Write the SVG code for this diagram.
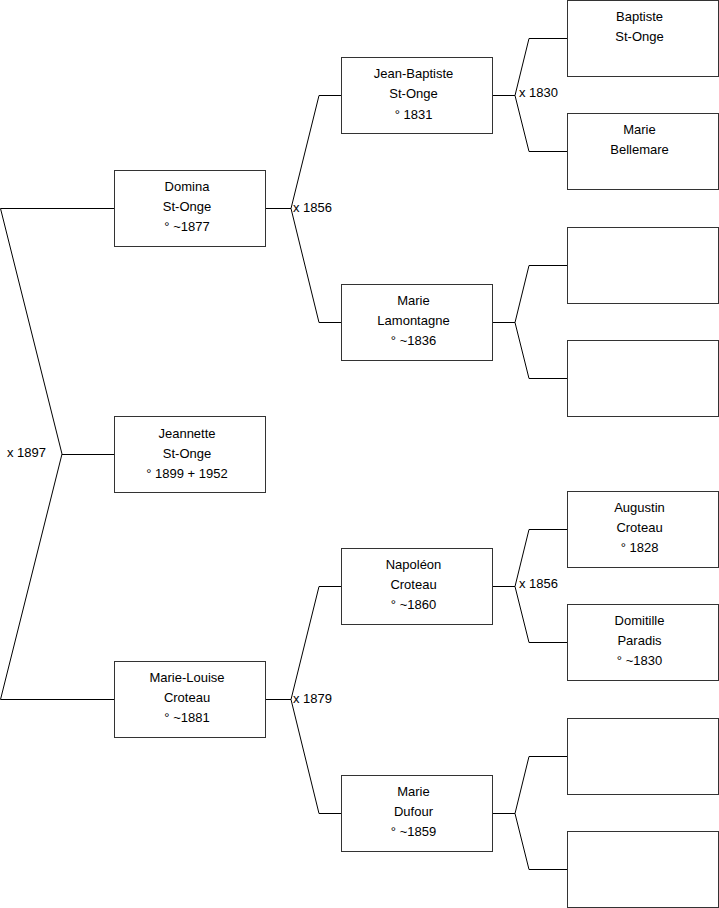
<svg xmlns="http://www.w3.org/2000/svg" width="719" height="908" viewBox="0 0 719 908">
<style>
.box{fill:#fff;stroke:#333;stroke-width:1}
.ln{fill:none;stroke:#000;stroke-width:1}
text{font-family:"Liberation Sans",Arial,sans-serif;font-size:13px;fill:#000}
.c{text-anchor:middle}
</style>
<rect width="719" height="908" fill="#fff"/>
<g id="connectors">
<polyline class="ln" points="114,208.5 0.5,208.5 62,454 0.5,699.5 114,699.5"/>
<line class="ln" x1="62" y1="454.5" x2="114" y2="454.5"/>
<text x="7" y="457">x 1897</text>
<polyline class="ln" points="265,208.5 291,208.5"/>
<polyline class="ln" points="341,95.5 319,95.5 291,208.5 319,322.5 341,322.5"/>
<text x="293" y="212">x 1856</text>
<polyline class="ln" points="265,699.5 291,699.5"/>
<polyline class="ln" points="341,586.5 319,586.5 291,699.5 319,813.5 341,813.5"/>
<text x="293" y="703">x 1879</text>
<polyline class="ln" points="492,95.5 515,95.5"/>
<polyline class="ln" points="567,38.5 529,38.5 515,95.5 529,151.5 567,151.5"/>
<text x="519" y="97">x 1830</text>
<polyline class="ln" points="492,322.5 515,322.5"/>
<polyline class="ln" points="567,265.5 529,265.5 515,322.5 529,378.5 567,378.5"/>
<polyline class="ln" points="492,586.5 515,586.5"/>
<polyline class="ln" points="567,529.5 529,529.5 515,586.5 529,642.5 567,642.5"/>
<text x="519" y="588">x 1856</text>
<polyline class="ln" points="492,813.5 515,813.5"/>
<polyline class="ln" points="567,756.5 529,756.5 515,813.5 529,869.5 567,869.5"/>
</g>
<g id="domina"><rect class="box" x="114.5" y="170.5" width="151" height="76"/>
<text class="c" x="187" y="191">Domina</text><text class="c" x="187" y="211">St-Onge</text><text class="c" x="187" y="231">° ~1877</text></g>
<g id="jeannette"><rect class="box" x="114.5" y="416.5" width="151" height="76"/>
<text class="c" x="187" y="438">Jeannette</text><text class="c" x="187" y="458">St-Onge</text><text class="c" x="187" y="478">° 1899 + 1952</text></g>
<g id="marie-louise"><rect class="box" x="114.5" y="661.5" width="151" height="76"/>
<text class="c" x="187" y="682">Marie-Louise</text><text class="c" x="187" y="702">Croteau</text><text class="c" x="187" y="722">° ~1881</text></g>
<g id="jean-baptiste"><rect class="box" x="341.5" y="57.5" width="151" height="76"/>
<text class="c" x="413.5" y="78">Jean-Baptiste</text><text class="c" x="413.5" y="98">St-Onge</text><text class="c" x="413.5" y="119">° 1831</text></g>
<g id="marie-lamontagne"><rect class="box" x="341.5" y="284.5" width="151" height="76"/>
<text class="c" x="413.5" y="305">Marie</text><text class="c" x="413.5" y="325">Lamontagne</text><text class="c" x="413.5" y="345">° ~1836</text></g>
<g id="napoleon"><rect class="box" x="341.5" y="548.5" width="151" height="76"/>
<text class="c" x="413.5" y="569">Napoléon</text><text class="c" x="413.5" y="589">Croteau</text><text class="c" x="413.5" y="609">° ~1860</text></g>
<g id="marie-dufour"><rect class="box" x="341.5" y="775.5" width="151" height="76"/>
<text class="c" x="413.5" y="796">Marie</text><text class="c" x="413.5" y="816">Dufour</text><text class="c" x="413.5" y="836">° ~1859</text></g>
<g id="baptiste"><rect class="box" x="567.5" y="0.5" width="151" height="76"/>
<text class="c" x="639.5" y="21">Baptiste</text><text class="c" x="639.5" y="41">St-Onge</text></g>
<g id="marie-bellemare"><rect class="box" x="567.5" y="113.5" width="151" height="76"/>
<text class="c" x="639.5" y="134">Marie</text><text class="c" x="639.5" y="154">Bellemare</text></g>
<g id="empty1"><rect class="box" x="567.5" y="227.5" width="151" height="76"/></g>
<g id="empty2"><rect class="box" x="567.5" y="340.5" width="151" height="76"/></g>
<g id="augustin"><rect class="box" x="567.5" y="491.5" width="151" height="76"/>
<text class="c" x="639.5" y="512">Augustin</text><text class="c" x="639.5" y="532">Croteau</text><text class="c" x="639.5" y="552">° 1828</text></g>
<g id="domitille"><rect class="box" x="567.5" y="604.5" width="151" height="76"/>
<text class="c" x="639.5" y="625">Domitille</text><text class="c" x="639.5" y="645">Paradis</text><text class="c" x="639.5" y="665">° ~1830</text></g>
<g id="empty3"><rect class="box" x="567.5" y="718.5" width="151" height="76"/></g>
<g id="empty4"><rect class="box" x="567.5" y="831.5" width="151" height="76"/></g>
</svg>
